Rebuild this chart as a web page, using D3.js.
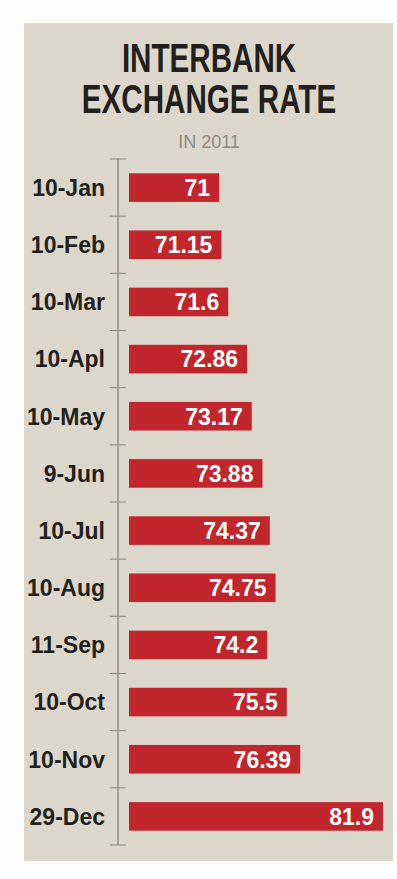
<!DOCTYPE html>
<html>
<head>
<meta charset="utf-8">
<script src="https://cdn.jsdelivr.net/npm/d3@7"></script>
<style>
  html, body { margin: 0; padding: 0; background: #fdfdfb; }
  svg { display: block; }
</style>
</head>
<body>
<div id="chart"></div>
<script>
// Data
let dates = ['10-Jan', '10-Feb', '10-Mar', '10-Apl', '10-May', '9-Jun',
  '10-Jul', '10-Aug', '11-Sep', '10-Oct', '10-Nov', '29-Dec'];
let rates = [71, 71.15, 71.6, 72.86, 73.17, 73.88, 74.37, 74.75, 74.2, 75.5, 76.39, 81.9];
let valueLabels = ['71', '71.15', '71.6', '72.86', '73.17', '73.88', '74.37', '74.75', '74.2', '75.5', '76.39', '81.9'];
let titleLines = ['INTERBANK', 'EXCHANGE RATE'];
let subtitle = 'IN 2011';

// SVG setup
let svgWidth = 397;
let svgHeight = 879;

let svg = d3.select('#chart')
  .append('svg')
  .attr('width', svgWidth)
  .attr('height', svgHeight);

// beige panel
svg.append('rect')
  .attr('x', 24)
  .attr('y', 23)
  .attr('width', 369)
  .attr('height', 838)
  .attr('fill', '#dcd7cb');

let centerX = 209;

// Title (condensed)
let titleGroup = svg.append('g')
  .attr('transform', `translate(${centerX}, 0) scale(0.74, 1)`);

titleGroup.selectAll('text')
  .data(titleLines)
  .enter()
  .append('text')
  .attr('x', 0)
  .attr('y', (d, i) => 72 + i * 41.5)
  .attr('text-anchor', 'middle')
  .attr('font-family', '"Liberation Sans", Arial, sans-serif')
  .attr('font-weight', 'bold')
  .attr('font-size', '40px')
  .attr('fill', '#221f1c')
  .text(d => d);

svg.append('text')
  .attr('x', centerX)
  .attr('y', 148)
  .attr('text-anchor', 'middle')
  .attr('font-family', '"Liberation Sans", Arial, sans-serif')
  .attr('font-size', '18px')
  .attr('fill', '#8d8a85')
  .text(subtitle);

// Scales
let yScale = d3.scaleBand()
  .domain(dates)
  .range([159, 845])
  .paddingInner(0.5)
  .paddingOuter(0.25);

let xScale = d3.scaleLinear()
  .domain([65, 81.9])
  .range([129, 383]);

// Axis line with ticks between bands
let axisX = 118;
let step = yScale.step();
let boundaries = d3.range(dates.length + 1).map(i => yScale.range()[0] + i * step);

svg.append('line')
  .attr('x1', axisX)
  .attr('x2', axisX)
  .attr('y1', boundaries[0])
  .attr('y2', boundaries[boundaries.length - 1])
  .attr('stroke', '#6f6b66')
  .attr('stroke-width', 1);

svg.selectAll('.tick')
  .data(boundaries)
  .enter()
  .append('line')
  .classed('tick', true)
  .attr('x1', axisX - 8)
  .attr('x2', axisX + 8)
  .attr('y1', d => d)
  .attr('y2', d => d)
  .attr('stroke', '#8a8680')
  .attr('stroke-width', 1);

// Bars
let barData = dates.map((d, i) => ({date: d, rate: rates[i], label: valueLabels[i]}));

svg.selectAll('.bar')
  .data(barData)
  .enter()
  .append('rect')
  .classed('bar', true)
  .attr('x', xScale(65))
  .attr('y', d => yScale(d.date))
  .attr('width', d => xScale(d.rate) - xScale(65))
  .attr('height', yScale.bandwidth())
  .attr('fill', '#c0262b');

// Value labels
svg.selectAll('.value')
  .data(barData)
  .enter()
  .append('text')
  .classed('value', true)
  .attr('x', d => xScale(d.rate) - 9)
  .attr('y', d => yScale(d.date) + yScale.bandwidth() / 2)
  .attr('dy', '0.36em')
  .attr('text-anchor', 'end')
  .attr('font-family', '"Liberation Sans", Arial, sans-serif')
  .attr('font-weight', 'bold')
  .attr('font-size', '23px')
  .attr('fill', '#ffffff')
  .text(d => d.label);

// Date labels
svg.selectAll('.date')
  .data(barData)
  .enter()
  .append('text')
  .classed('date', true)
  .attr('x', 105)
  .attr('y', d => yScale(d.date) + yScale.bandwidth() / 2)
  .attr('dy', '0.36em')
  .attr('text-anchor', 'end')
  .attr('font-family', '"Liberation Sans", Arial, sans-serif')
  .attr('font-weight', 'bold')
  .attr('font-size', '23px')
  .attr('fill', '#221f1c')
  .text(d => d.date);
</script>
</body>
</html>
